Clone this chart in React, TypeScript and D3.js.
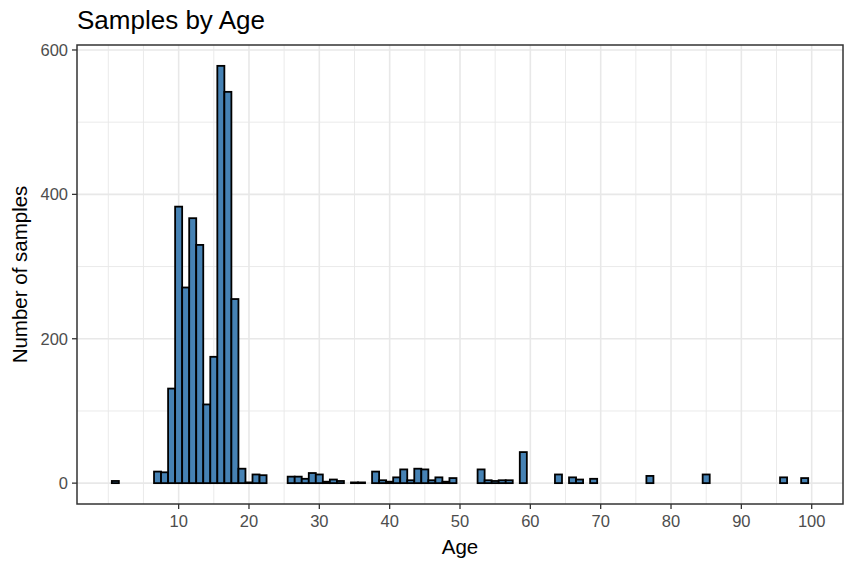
import * as d3 from "d3"
import { useEffect, useRef } from "react"

// counts per age (binwidth 1)
const ages = [1, 7, 8, 9, 10, 11, 12, 13, 14, 15, 16, 17, 18, 19, 20, 21, 22,
    26, 27, 28, 29, 30, 31, 32, 33, 35, 36, 38, 39, 40, 41, 42, 43, 44, 45, 46, 47, 48, 49,
    53, 54, 55, 56, 57, 59, 64, 66, 67, 69, 77, 85, 96, 99]
const counts = [3, 16, 15, 131, 383, 271, 367, 330, 109, 175, 578, 542, 255, 20, 1, 12, 11,
    9, 9, 6, 14, 12, 2, 5, 3, 1, 1, 16, 4, 2, 8, 19, 4, 20, 19, 4, 8, 2, 7,
    19, 4, 3, 4, 4, 43, 12, 8, 5, 6, 10, 12, 8, 7]

const xTicks = [10, 20, 30, 40, 50, 60, 70, 80, 90, 100]
const xMinor = [0, 5, 15, 25, 35, 45, 55, 65, 75, 85, 95]
const yTicks = [0, 200, 400, 600]
const yMinor = [100, 300, 500]

const W = 855
const H = 570
const margin = { top: 45, right: 12, bottom: 66, left: 77 }
const FONT = "'Liberation Sans', Arial, sans-serif"

const App = () => {
    const svgRef = useRef(null)

    useEffect(() => {
        const svg = d3.select(svgRef.current)
        svg.selectAll("*").remove()

        const data = ages.map((a, i) => ({ age: a, n: counts[i] }))
        const x0 = 0.5, x1 = 99.5
        const xPad = (x1 - x0) * 0.05
        const yMax = d3.max(counts)
        const x = d3.scaleLinear()
            .domain([x0 - xPad, x1 + xPad])
            .range([margin.left, W - margin.right])
        const y = d3.scaleLinear()
            .domain([-yMax * 0.05, yMax * 1.05])
            .range([H - margin.bottom, margin.top])

        const left = margin.left, right = W - margin.right
        const top = margin.top, bottom = H - margin.bottom

        svg.append("rect")
            .attr("x", left).attr("y", top)
            .attr("width", right - left).attr("height", bottom - top)
            .attr("fill", "white")

        const grid = svg.append("g")
        grid.selectAll(".vmin").data(xMinor).join("line")
            .attr("x1", d => x(d)).attr("x2", d => x(d))
            .attr("y1", top).attr("y2", bottom)
            .attr("stroke", "#e8e8e8").attr("stroke-width", 0.9)
        grid.selectAll(".hmin").data(yMinor).join("line")
            .attr("y1", d => y(d)).attr("y2", d => y(d))
            .attr("x1", left).attr("x2", right)
            .attr("stroke", "#e8e8e8").attr("stroke-width", 0.9)
        grid.selectAll(".vmaj").data(xTicks).join("line")
            .attr("x1", d => x(d)).attr("x2", d => x(d))
            .attr("y1", top).attr("y2", bottom)
            .attr("stroke", "#e8e8e8").attr("stroke-width", 1.6)
        grid.selectAll(".hmaj").data(yTicks).join("line")
            .attr("y1", d => y(d)).attr("y2", d => y(d))
            .attr("x1", left).attr("x2", right)
            .attr("stroke", "#e8e8e8").attr("stroke-width", 1.6)

        svg.append("g").selectAll("rect").data(data).join("rect")
            .attr("x", d => x(d.age - 0.5))
            .attr("width", d => x(d.age + 0.5) - x(d.age - 0.5))
            .attr("y", d => y(d.n))
            .attr("height", d => y(0) - y(d.n))
            .attr("fill", "#4682B4")
            .attr("stroke", "black")
            .attr("stroke-width", 1.8)

        svg.append("rect")
            .attr("x", left).attr("y", top)
            .attr("width", right - left).attr("height", bottom - top)
            .attr("fill", "none")
            .attr("stroke", "#333333").attr("stroke-width", 1.5)

        // x axis
        const xa = svg.append("g")
        xa.selectAll("line").data(xTicks).join("line")
            .attr("x1", d => x(d)).attr("x2", d => x(d))
            .attr("y1", bottom).attr("y2", bottom + 5)
            .attr("stroke", "#333333").attr("stroke-width", 1.3)
        xa.selectAll("text").data(xTicks).join("text")
            .attr("x", d => x(d)).attr("y", bottom + 23)
            .attr("text-anchor", "middle")
            .attr("font-family", FONT).attr("font-size", 16.5)
            .attr("fill", "#4d4d4d")
            .text(d => d)

        // y axis
        const ya = svg.append("g")
        ya.selectAll("line").data(yTicks).join("line")
            .attr("y1", d => y(d)).attr("y2", d => y(d))
            .attr("x1", left - 5).attr("x2", left)
            .attr("stroke", "#333333").attr("stroke-width", 1.3)
        ya.selectAll("text").data(yTicks).join("text")
            .attr("x", left - 9).attr("y", d => y(d))
            .attr("dy", "0.35em")
            .attr("text-anchor", "end")
            .attr("font-family", FONT).attr("font-size", 16.5)
            .attr("fill", "#4d4d4d")
            .text(d => d)

        svg.append("text")
            .attr("x", (left + right) / 2).attr("y", 554)
            .attr("text-anchor", "middle")
            .attr("font-family", FONT).attr("font-size", 20.5)
            .attr("fill", "black")
            .text("Age")

        svg.append("text")
            .attr("transform", `translate(27, ${(top + bottom) / 2}) rotate(-90)`)
            .attr("text-anchor", "middle")
            .attr("font-family", FONT).attr("font-size", 20.5)
            .attr("fill", "black")
            .text("Number of samples")

        svg.append("text")
            .attr("x", left).attr("y", 29)
            .attr("font-family", FONT).attr("font-size", 26)
            .attr("fill", "black")
            .text("Samples by Age")
    }, [])

    return (
        <svg ref={svgRef} width={W} height={H}
            style={{ position: "absolute", left: 0, top: 0, background: "white" }}></svg>
    )
}

export default App
